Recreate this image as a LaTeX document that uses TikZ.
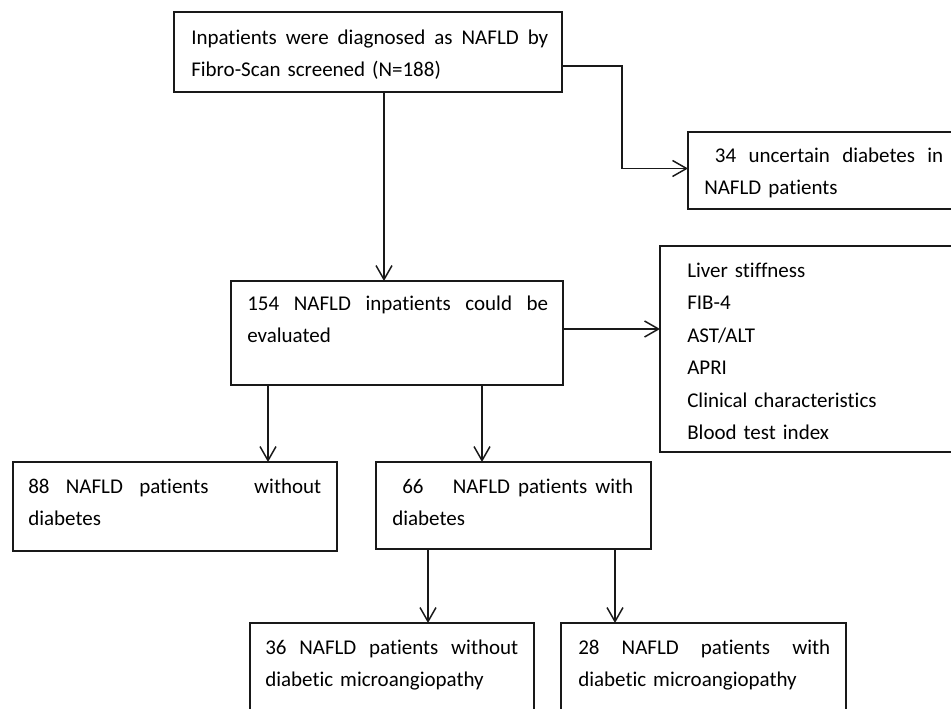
\documentclass[tikz,border=0pt]{standalone}
\usepackage{fontspec}
\setmainfont{Carlito}[Ligatures={NoCommon,TeX}]
\usetikzlibrary{arrows.meta}
\newcommand\fl{\rule{0pt}{12.5pt}}
\newcommand\jline[2]{\makebox[#1][s]{\spaceskip=0.226em plus 1fil\relax #2}}
\newcommand\mybox[5]{\node[box, minimum width={(#4-#2)*0.75pt}, minimum height={(#5-#3)*0.75pt}] (#1) at (#2,#3) {};}
\begin{document}
\begin{tikzpicture}[x=0.75pt,y=-0.75pt,
  box/.style={draw=black!90, line width=1.1pt, rectangle, inner sep=0pt, outer sep=0pt, anchor=north west},
  txt/.style={anchor=north west, inner sep=0pt, align=left, text width=300pt, font=\fontsize{15.75pt}{24.4pt}\selectfont},
  arr/.style={draw=black!90, line width=1.1pt, -{Straight Barb[length=10.5pt,width=12pt,line width=1.1pt]}}
]
\useasboundingbox (0,0) rectangle (951,709);
\clip (0,0) rectangle (951,709);

% boxes
\mybox{b1}{174}{12}{562}{92}
\mybox{b3}{688}{132}{968}{209}
\mybox{b2}{231}{281}{563}{385}
\mybox{b4}{660}{246}{968}{452}
\mybox{b5}{13}{462}{337}{551}
\mybox{b6}{376}{462}{651}{549}
\mybox{b7}{250}{623}{534}{730}
\mybox{b8}{561}{623}{846}{730}

% texts
\node[txt] (t1) at (191,27.3) {\fl\jline{267.75pt}{Inpatients were diagnosed as NAFLD by}\\Fibro-Scan screened (N=188)};
\node[txt] (t3) at (704,145.3) {\fl\jline{179.25pt}{\hspace*{8pt}34 uncertain diabetes in}\\NAFLD patients};
\node[txt] (t2) at (247,293.3) {\fl\jline{225.75pt}{154 NAFLD inpatients could be}\\evaluated};
\node[txt] (t4) at (687,260.3) {\fl Liver stiffness\\FIB-4\\AST/ALT\\APRI\\Clinical characteristics\\Blood test index};
\node[txt] (t5) at (28,476.3) {\fl\jline{219.75pt}{88 NAFLD patients\hspace{22pt} without}\\diabetes};
\node[txt] (t6) at (392,476.3) {\fl\jline{180.75pt}{\hspace*{7.5pt}66\hspace{16pt} NAFLD patients with}\\diabetes};
\node[txt] (t7) at (265,637.3) {\fl\jline{189.75pt}{36 NAFLD patients without}\\diabetic microangiopathy};
\node[txt] (t8) at (578,637.3) {\fl\jline{189pt}{28 NAFLD patients with}\\diabetic microangiopathy};

% connectors
\coordinate (x1) at (384,0);
\coordinate (x5) at (268,0);
\coordinate (x6) at (482,0);
\coordinate (x7) at (428,0);
\coordinate (x8) at (615,0);
\coordinate (xb) at (622,0);

\draw[arr] (x1 |- b1.south) -- (x1 |- b2.north);
\draw[arr] ([yshift=-10.5pt]b1.east) coordinate (br) -- (br -| xb) |- ([yshift=1.5pt]b3.west);
\draw[arr] ([yshift=3pt]b2.east) coordinate (a4) -- (a4 -| b4.west);
\draw[arr] (x5 |- b2.south) -- (x5 |- b5.north);
\draw[arr] (x6 |- b2.south) -- (x6 |- b6.north);
\draw[arr] (x7 |- b6.south) -- (x7 |- b7.north);
\draw[arr] (x8 |- b6.south) -- (x8 |- b8.north);
\end{tikzpicture}
\end{document}
